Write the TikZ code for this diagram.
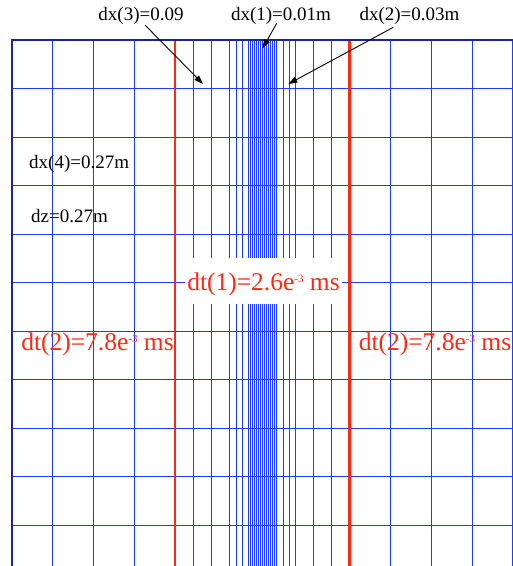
\documentclass[tikz,border=0pt]{standalone}
\usepackage{fontspec}
\setmainfont{Liberation Serif}
\usetikzlibrary{arrows.meta}
\definecolor{gridblue}{RGB}{30,60,255}
\definecolor{navy}{RGB}{25,40,150}
\definecolor{tred}{RGB}{255,40,20}
\newcommand{\smallsup}[1]{\raisebox{8pt}{\fontsize{11}{11}\selectfont #1}}
\tikzset{
  gridline/.style={draw=gridblue, line width=0.9pt},
  redline/.style={draw=tred, line width=2.6pt},
  border/.style={draw=navy, line width=2pt},
  dxlabel/.style={font=\fontsize{19}{19}\selectfont, text=black, inner sep=0pt},
  dtlabel/.style={font=\fontsize{25.5}{25.5}\selectfont, text=tred, inner sep=0pt},
  pointer/.style={draw=black, line width=0.9pt, -{Triangle[length=9pt,width=6pt]}}
}
\begin{document}
\begin{tikzpicture}[x=1pt,y=-1pt]
\useasboundingbox (0,0) rectangle (513,566);
\clip (0,0) rectangle (513,566);
% horizontal grid lines
\foreach \y in {88.5,137,185.5,234,282.5,331,379.5,428,476.5,525}
  \draw[gridline] (11.7,\y) -- (513,\y);
% vertical grid lines
\foreach \x in {52.5,93.3,134,193.3,211.3,229.7,236,242.3,283,289,295,313.3,331.7,390.3,431.3,472,512.3}
  \draw[gridline] (\x,40) -- (\x,566);
\foreach \i in {0,...,14}
  \draw[gridline] ({248.3+\i*2.0286},40) -- ({248.3+\i*2.0286},566);
% red lines
\draw[redline] (175,40) -- (175,566);
\draw[redline] (349.7,40) -- (349.7,566);
% borders
\draw[border] (11.7,566) -- (11.7,40) -- (513,40);
% labels
\node[dxlabel, anchor=base] (dx3) at (141,20.7) {dx(3)=0.09};
\node[dxlabel, anchor=base] (dx1) at (281,20.7) {dx(1)=0.01m};
\node[dxlabel, anchor=base] (dx2) at (409.5,20.7) {dx(2)=0.03m};
\node[dxlabel, anchor=base west] (dx4) at (29,168) {dx(4)=0.27m};
\node[dxlabel, anchor=base west] (dz) at (31,222) {dz=0.27m};
\node[dtlabel, anchor=base, fill=white, text height=32.7pt, text depth=13.3pt, inner xsep=2.5pt] (dt1) at (263.5,290.7) {dt(1)=2.6e\smallsup{-3} ms};
\node[dtlabel, anchor=base] (dt2l) at (97.5,350) {dt(2)=7.8e\smallsup{-3} ms};
\node[dtlabel, anchor=base] (dt2r) at (435,350) {dt(2)=7.8e\smallsup{-3} ms};
% arrows
\coordinate (a3s) at (145,25);
\coordinate (a3e) at (203,84);
\coordinate (a1s) at (276.7,23.3);
\coordinate (a1e) at (262.5,48.5);
\coordinate (a2s) at (393.3,27.3);
\coordinate (a2e) at (288.3,84);
\draw[pointer] (a3s) -- (a3e);
\draw[pointer] (a1s) -- (a1e);
\draw[pointer] (a2s) -- (a2e);
\end{tikzpicture}
\end{document}
